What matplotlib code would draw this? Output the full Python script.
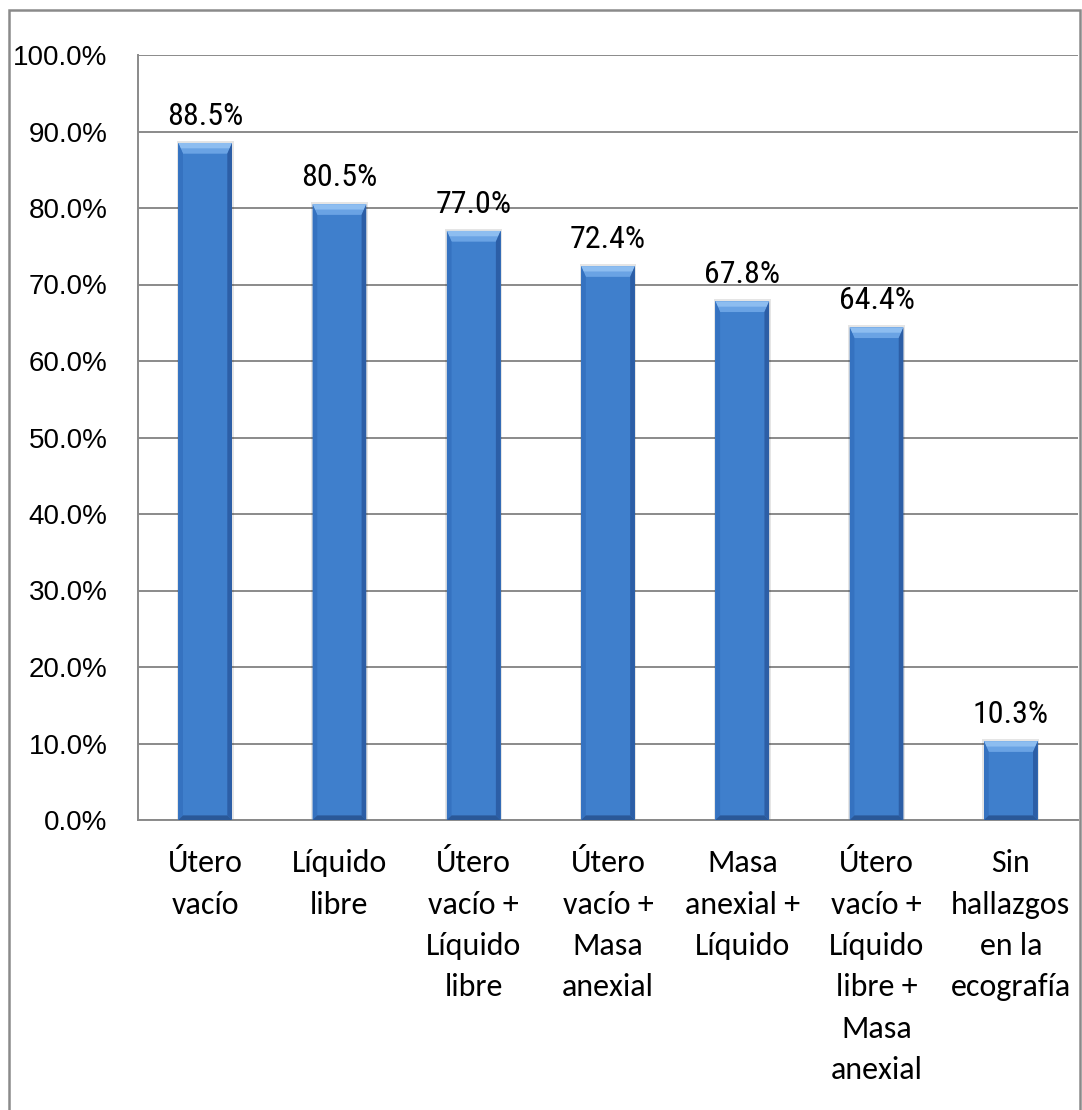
import matplotlib
matplotlib.use("Agg")
import matplotlib.pyplot as plt
from matplotlib.patches import Polygon, Rectangle
from matplotlib.ticker import FuncFormatter

categories = [
    "Útero\nvacío",
    "Líquido\nlibre",
    "Útero\nvacío +\nLíquido\nlibre",
    "Útero\nvacío +\nMasa\nanexial",
    "Masa\nanexial +\nLíquido",
    "Útero\nvacío +\nLíquido\nlibre +\nMasa\nanexial",
    "Sin\nhallazgos\nen la\necografía",
]
values = [88.5, 80.5, 77.0, 72.4, 67.8, 64.4, 10.3]
yticks = [0, 10, 20, 30, 40, 50, 60, 70, 80, 90, 100]

W, H = 1082, 1110
fig = plt.figure(figsize=(W / 100, H / 100), dpi=100)
ax = fig.add_axes([138 / W, 1 - 820 / H, 940 / W, 765 / H])

grey = "#8a8a8a"
face = "#3f7fcc"
label_font = ["Arial Narrow", "Roboto Condensed", "Archivo Narrow", "Liberation Sans"]
cat_font = ["Carlito", "Calibri", "Lato"]

x = list(range(len(categories)))
bars = ax.bar(x, values, width=0.40, color=face, edgecolor="none", zorder=3)

# bevelled look: light top, darker sides and bottom
bx, by, bb = 0.035, 1.4, 0.6
for b in bars:
    x0, y0 = b.get_x(), b.get_y()
    x1, y1 = x0 + b.get_width(), y0 + b.get_height()
    # soft shadow
    ax.add_patch(Rectangle((x0 - 0.012, y0), x1 - x0 + 0.024, y1 - y0 + 0.3,
                           facecolor="#000000", alpha=0.10, edgecolor="none", zorder=2))
    ax.add_patch(Polygon([(x0, y1), (x1, y1), (x1 - bx, y1 - by), (x0 + bx, y1 - by)],
                         closed=True, facecolor="#6aa3e4", edgecolor="none", zorder=4))
    ax.add_patch(Polygon([(x0, y1), (x1, y1), (x1 - bx / 2, y1 - by / 2), (x0 + bx / 2, y1 - by / 2)],
                         closed=True, facecolor="#8dbdf0", edgecolor="none", zorder=4))
    ax.add_patch(Polygon([(x0, y0), (x0, y1), (x0 + bx, y1 - by), (x0 + bx, y0 + bb)],
                         closed=True, facecolor="#3572c0", edgecolor="none", zorder=4))
    ax.add_patch(Polygon([(x1, y0), (x1, y1), (x1 - bx, y1 - by), (x1 - bx, y0 + bb)],
                         closed=True, facecolor="#2c5ea6", edgecolor="none", zorder=4))
    ax.add_patch(Polygon([(x0, y0), (x1, y0), (x1 - bx, y0 + bb), (x0 + bx, y0 + bb)],
                         closed=True, facecolor="#2a5898", edgecolor="none", zorder=4))

for b, v in zip(bars, values):
    ax.annotate(f"{v:.1f}%", (b.get_x() + b.get_width() / 2, b.get_height()),
                xytext=(0, 13), textcoords="offset points", ha="center", va="baseline",
                fontsize=23, family=label_font, color="#000000", zorder=5)

ax.set_xlim(-0.5, len(categories) - 0.5)
ax.set_ylim(0, 100)
ax.set_yticks(yticks)
ax.yaxis.set_major_formatter(FuncFormatter(lambda v, p: f"{v:.1f}%"))
ax.set_xticks(x)
ax.set_xticklabels(categories, family=cat_font, fontsize=23, linespacing=1.58,
                   multialignment="center")
for lab in ax.get_yticklabels():
    lab.set_family("Liberation Sans")
    lab.set_fontsize(20)
ax.tick_params(axis="y", length=0, pad=22)
ax.tick_params(axis="x", length=0, pad=21)

ax.grid(axis="y", color=grey, linewidth=1.4, zorder=0)
ax.set_axisbelow(True)
for s in ["top", "right"]:
    ax.spines[s].set_visible(False)
for s in ["left", "bottom"]:
    ax.spines[s].set_color(grey)
    ax.spines[s].set_linewidth(1.4)

# outer chart frame
fig.patches.append(Rectangle((9 / W, -0.02), 1071 / W, 1.02 - 9.5 / H,
                             transform=fig.transFigure, fill=False,
                             edgecolor=grey, linewidth=1.8))

fig.savefig("out.png", dpi=100, facecolor="white")
